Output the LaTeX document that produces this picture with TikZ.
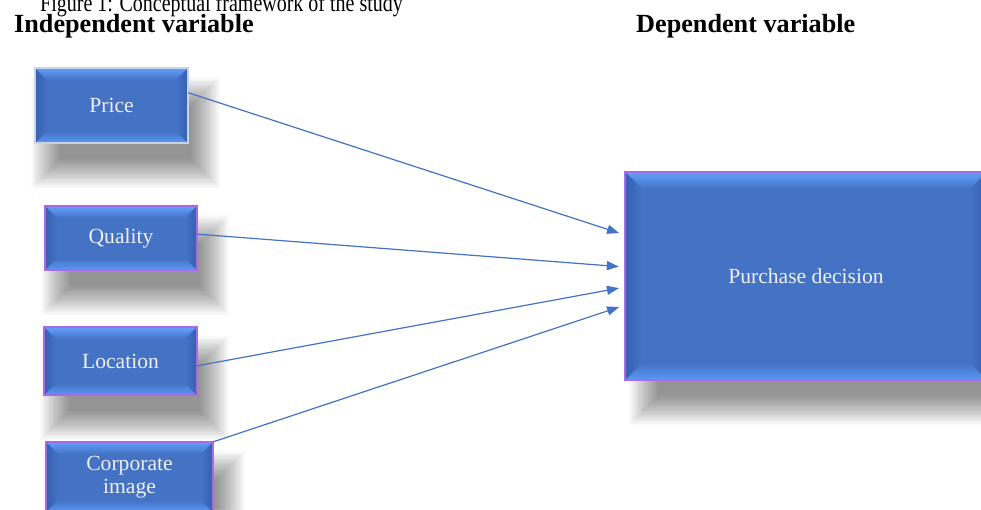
\documentclass[tikz,border=0pt]{standalone}
\usepackage{fontspec}
\usepackage{graphicx}
\setmainfont{Liberation Serif}
\usetikzlibrary{arrows.meta,calc}
\definecolor{boxmain}{HTML}{4472C4}
\definecolor{boxtop}{HTML}{62A0FA}
\definecolor{boxbot}{HTML}{5A98F4}
\definecolor{boxside}{HTML}{3760B0}
\definecolor{boxedge}{HTML}{A86AE6}
\definecolor{paleedge}{HTML}{C9D3E6}
\definecolor{linecol}{HTML}{4472C4}
\tikzset{
  boxtext/.style={text=white!94!black, font=\rmfamily\fontsize{21.6}{23}\selectfont, align=center, inner sep=0pt},
  hdr/.style={font=\rmfamily\bfseries\fontsize{26.2}{28}\selectfont, inner sep=0pt, anchor=base west},
  conn/.style={draw=linecol, line width=1.2pt, -{Triangle[length=12pt,width=9pt]}, shorten >=6pt},
}
% #1 name, #2 x1, #3 y1, #4 x2, #5 y2, #6 bevel, #7 shadow dx, #8 border colour, #9 text
\newcommand{\bevelbox}[9]{%
  \foreach \k in {1,...,24}{
    \pgfmathsetmacro{\e}{19-1.25*\k}
    \fill[black,opacity=0.018] (#2+#7-\e,#3+27-\e) rectangle (#4+#7+\e,#5+27+\e);
  }
  \fill[boxmain] (#2,#3) rectangle (#4,#5);
  \shade[top color=boxtop,bottom color=boxmain] (#2,#3) -- (#4,#3) -- (#4-#6,#3+#6) -- (#2+#6,#3+#6) -- cycle;
  \shade[top color=boxmain,bottom color=boxbot] (#2,#5) -- (#4,#5) -- (#4-#6,#5-#6) -- (#2+#6,#5-#6) -- cycle;
  \shade[left color=boxside,right color=boxmain] (#2,#3) -- (#2+#6,#3+#6) -- (#2+#6,#5-#6) -- (#2,#5) -- cycle;
  \shade[left color=boxmain,right color=boxside] (#4,#3) -- (#4-#6,#3+#6) -- (#4-#6,#5-#6) -- (#4,#5) -- cycle;
  \draw[#8,line width=1.3pt] (#2,#3) rectangle (#4,#5);
  \pgfmathsetmacro{\bw}{#4-#2}
  \pgfmathsetmacro{\bh}{#5-#3}
  \node[boxtext, minimum width=\bw pt, minimum height=\bh pt] (#1) at ({(#2+#4)/2},{(#3+#5)/2}) {#9};
}
\begin{document}
\begin{tikzpicture}[x=1pt,y=-1pt]
\useasboundingbox[fill=white] (0,0) rectangle (981,509);
\node[anchor=base west, inner sep=0pt, font=\rmfamily\fontsize{20}{24}\selectfont] (title) at (40,11.5) {\scalebox{1}[1.25]{Figure 1: Conceptual framework of the study}};
\node[hdr] (indep) at (14,32.5) {Independent variable};
\node[hdr] (dep) at (636,32.5) {Dependent variable};

\bevelbox{price}{35}{68}{188}{143}{12}{14}{paleedge}{Price}
\bevelbox{quality}{45}{206}{197}{270}{12}{14}{boxedge}{Quality}
\bevelbox{location}{44}{327}{197}{395}{12}{14}{boxedge}{Location}
\bevelbox{corp}{46}{442}{213}{512}{12}{14}{boxedge}{Corporate\\image}
\bevelbox{pd}{625}{172}{987}{380}{17}{22}{boxedge}{Purchase decision}

\coordinate (t1) at ($(pd.north west)!0.303!(pd.south west)$);
\coordinate (t2) at ($(pd.north west)!0.457!(pd.south west)$);
\coordinate (t3) at ($(pd.north west)!0.553!(pd.south west)$);
\coordinate (t4) at ($(pd.north west)!0.640!(pd.south west)$);

\draw[conn] ($(price.north east)!0.33!(price.south east)$) -- (t1);
\draw[conn] ($(quality.north east)!0.44!(quality.south east)$) -- (t2);
\draw[conn] ($(location.north east)!0.57!(location.south east)$) -- (t3);
\draw[conn] (corp.north east) -- (t4);
\end{tikzpicture}
\end{document}
